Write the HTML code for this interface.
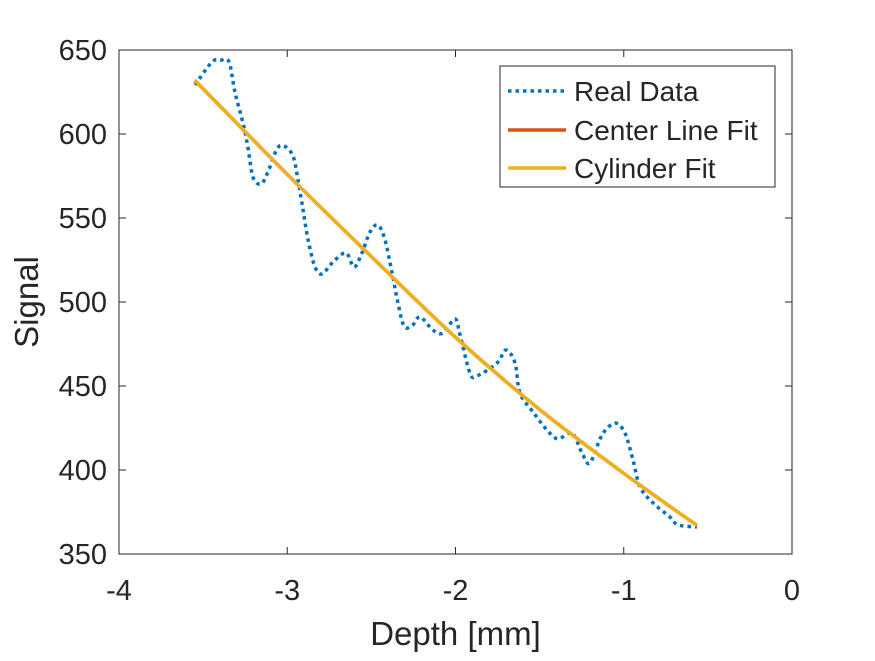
<!DOCTYPE html>
<html><head><meta charset="utf-8"><style>
html,body{margin:0;padding:0;background:#fff;}
text{font-family:"Liberation Sans",Arial,sans-serif;fill:#262626;}
</style></head><body>
<svg id="chart" width="875" height="656" xmlns="http://www.w3.org/2000/svg">
<rect width="875" height="656" fill="#fff"/>
<g id="plot"></g>
</svg>
<script>
const xTicks=[-4,-3,-2,-1,0];
const yTicks=[350,400,450,500,550,600,650];
const realX=[-3.548,-3.447,-3.394,-3.346,-3.311,-3.263,-3.234,-3.204,-3.156,-3.115,-3.061,-3.019,-2.966,-2.936,-2.906,-2.876,-2.835,-2.793,-2.728,-2.651,-2.603,-2.556,-2.508,-2.461,-2.419,-2.377,-2.342,-2.306,-2.259,-2.211,-2.134,-2.074,-2.003,-1.973,-1.914,-1.872,-1.753,-1.700,-1.646,-1.617,-1.539,-1.456,-1.391,-1.308,-1.248,-1.201,-1.129,-1.052,-0.993,-0.945,-0.903,-0.826,-0.725,-0.677,-0.565];
const realY=[629.2,642.9,644.0,642.9,625.0,606.5,592.3,574.4,570.2,577.4,591.1,592.9,586.9,572.6,554.8,536.9,520.8,516.7,523.8,529.2,520.8,529.2,541.7,545.8,536.9,517.3,499.4,485.7,485.7,491.1,483.3,481.5,489.9,480.4,457.7,456.0,463.7,471.4,463.7,445.8,434.5,423.8,418.5,422.0,410.1,404.2,420.8,427.9,422.0,405.9,389.9,380.4,372.0,367.3,366.1];
const fitX=[-3.55,-3.0,-2.5,-2.0,-1.5,-1.0,-0.565];
const fitY=[632,576,527,479,436,398,367];
const legendLabels=["Real Data","Center Line Fit","Cylinder Fit"];

const L=119,R=792,T=50,B=554;
const sx=v=>L+(v+4)/4*(R-L);
const sy=v=>B-(v-350)/300*(B-T);
const NS="http://www.w3.org/2000/svg";
const g=document.getElementById('plot');
function mk(tag,attrs,parent){const e=document.createElementNS(NS,tag);for(const k in attrs)e.setAttribute(k,attrs[k]);(parent||g).appendChild(e);return e;}

const box=mk('rect',{x:L,y:T,width:R-L,height:B-T,fill:'none',stroke:'#262626','stroke-width':1});



xTicks.forEach(t=>{
  const x=sx(t);
  const tk=mk('path',{d:`M${x},${B}v-7M${x},${T}v7`,stroke:'#262626','stroke-width':1});
  
  
  const tx=mk('text',{x:x,y:B+46,'text-anchor':'middle','font-size':29});
  tx.textContent=String(t);
  
  
});
yTicks.forEach(t=>{
  const y=sy(t);
  const tk=mk('path',{d:`M${L},${y}h7M${R},${y}h-7`,stroke:'#262626','stroke-width':1});
  
  
  const tx=mk('text',{x:L-12,y:y+10,'text-anchor':'end','font-size':29});
  tx.textContent=String(t);
  
  
});
const xl=mk('text',{x:(L+R)/2,y:645,'text-anchor':'middle','font-size':33});
xl.textContent='Depth [mm]';


const yl=mk('text',{x:38,y:(T+B)/2,'text-anchor':'middle','font-size':33,transform:`rotate(-90 38 ${(T+B)/2})`});
yl.textContent='Signal';



function smooth(xs,ys){
  const p=xs.map((v,i)=>[sx(v),sy(ys[i])]);
  let d=`M${p[0][0]},${p[0][1]}`;
  for(let i=0;i<p.length-1;i++){
    const p0=p[Math.max(0,i-1)],p1=p[i],p2=p[i+1],p3=p[Math.min(p.length-1,i+2)];
    const c1=[p1[0]+(p2[0]-p0[0])/6,p1[1]+(p2[1]-p0[1])/6];
    const c2=[p2[0]-(p3[0]-p1[0])/6,p2[1]-(p3[1]-p1[1])/6];
    d+=`C${c1[0]},${c1[1]} ${c2[0]},${c2[1]} ${p2[0]},${p2[1]}`;
  }
  return d;
}
const real=mk('path',{d:smooth(realX,realY),fill:'none',stroke:'#0072BD','stroke-width':3.5,'stroke-dasharray':'3.5 4'});


const cl=mk('path',{d:smooth(fitX,fitY),fill:'none',stroke:'#D95319','stroke-width':3.5});


const cyl=mk('path',{d:smooth(fitX,fitY),fill:'none',stroke:'#EDB120','stroke-width':3.5});



const lg=mk('g',{});


mk('rect',{x:500,y:66,width:275,height:121,fill:'#fff',stroke:'#262626','stroke-width':1},lg);
const cols=['#0072BD','#D95319','#EDB120'];
const ly=[91,130,168];
legendLabels.forEach((s,i)=>{
  const ln=mk('line',{x1:508,x2:566,y1:ly[i],y2:ly[i],stroke:cols[i],'stroke-width':3.5},lg);
  if(i===0)ln.setAttribute('stroke-dasharray','3.5 4');
  
  
  const t=mk('text',{x:574,y:ly[i]+10,'font-size':28},lg);
  t.textContent=s;
  
  
});
</script>
</body></html>
